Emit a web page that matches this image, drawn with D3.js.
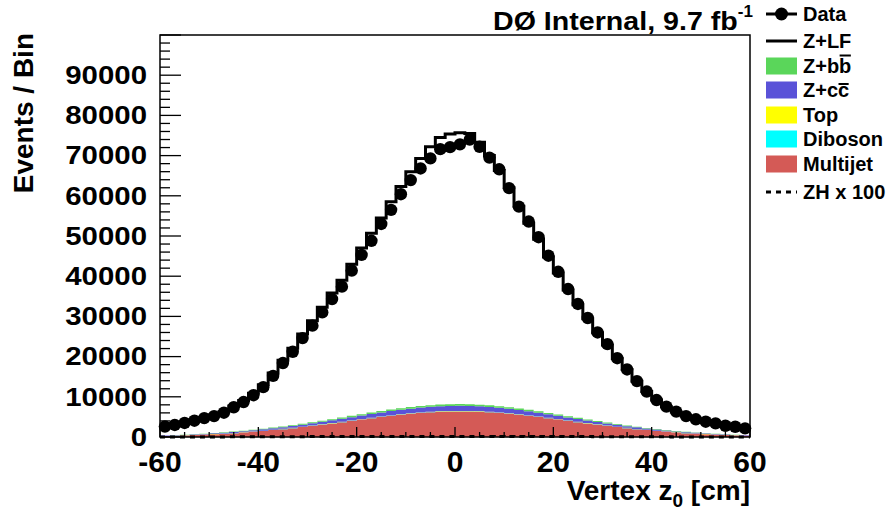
<!DOCTYPE html>
<html>
<head>
<meta charset="UTF-8">
<title>Vertex z0</title>
<script src="https://d3js.org/d3.v7.min.js"></script>
<style>
  body { margin: 0; background: #fff; }
  text { font-family: "Liberation Sans", Arial, sans-serif; font-weight: bold; fill: #000; }
</style>
</head>
<body>
<script>
// 2 cm bins from -60 to 60 (bin centres)
var binCenters = d3.range(-59, 60, 2);

var dataCounts = [2600, 3000, 3500, 4050, 4700, 5200, 6050, 7400, 8700, 10400,
  12400, 15200, 18400, 21200, 24600, 27700, 31000, 34300, 37400, 41400,
  45300, 48800, 53000, 56500, 60400, 63900, 66800, 69300, 71600, 72100,
  72800, 74000, 72200, 69500, 66600, 61900, 57300, 53600, 49700, 45100,
  41100, 36800, 33100, 29600, 26000, 23100, 19600, 16800, 13900, 11300,
  9200, 7550, 6300, 5200, 4400, 3800, 3400, 2800, 2550, 2150];

var multijet = [260, 320, 390, 475, 570, 690, 820, 960, 1120, 1300,
  1500, 1720, 1950, 2200, 2470, 2760, 3060, 3370, 3690, 4010,
  4330, 4650, 4960, 5250, 5520, 5760, 5970, 6130, 6250, 6320,
  6350, 6320, 6250, 6130, 5970, 5760, 5520, 5250, 4960, 4650,
  4330, 4010, 3690, 3370, 3060, 2760, 2470, 2200, 1950, 1720,
  1500, 1300, 1120, 960, 820, 690, 570, 475, 390, 320];

var diboson = [8, 10, 12, 14, 16, 18, 20, 22, 25, 28,
  30, 33, 35, 38, 40, 43, 45, 47, 49, 51,
  53, 54, 56, 57, 58, 59, 60, 60, 60, 60,
  60, 60, 60, 60, 59, 58, 57, 56, 54, 53,
  51, 49, 47, 45, 43, 40, 38, 35, 33, 30,
  28, 25, 22, 20, 18, 16, 14, 12, 10, 8];

var top_ = [10, 12, 14, 16, 18, 20, 23, 26, 29, 32,
  35, 38, 41, 44, 47, 50, 53, 56, 58, 60,
  62, 64, 66, 67, 68, 69, 70, 70, 70, 70,
  70, 70, 70, 70, 69, 68, 67, 66, 64, 62,
  60, 58, 56, 53, 50, 47, 44, 41, 38, 35,
  32, 29, 26, 23, 20, 18, 16, 14, 12, 10];

var zcc = [80, 95, 110, 130, 150, 175, 200, 230, 265, 300,
  340, 380, 425, 470, 520, 570, 630, 690, 750, 820,
  880, 950, 1010, 1070, 1120, 1170, 1210, 1240, 1260, 1270,
  1270, 1260, 1240, 1210, 1170, 1120, 1070, 1010, 950, 880,
  820, 750, 690, 630, 570, 520, 470, 425, 380, 340,
  300, 265, 230, 200, 175, 150, 130, 110, 95, 80];

var zbb = [40, 45, 50, 60, 70, 80, 90, 100, 115, 130,
  145, 165, 180, 200, 220, 240, 260, 280, 300, 320,
  340, 360, 375, 390, 400, 410, 420, 425, 430, 430,
  430, 430, 425, 420, 410, 400, 390, 375, 360, 340,
  320, 300, 280, 260, 240, 220, 200, 180, 165, 145,
  130, 115, 100, 90, 80, 70, 60, 50, 45, 40];

var zlf = [2300, 2620, 3020, 3510, 4030, 4470, 5150, 6360, 7550, 9110,
  10950, 13560, 16470, 19150, 22300, 25240, 28250, 31360, 34150, 37740,
  41340, 44620, 48030, 51670, 55130, 58530, 61570, 64280, 66430, 67250,
  67520, 67360, 65260, 62110, 58620, 54590, 50300, 46440, 42810, 38820,
  35220, 31430, 28140, 25040, 21940, 19310, 16280, 13920, 11330, 9030,
  7210, 5770, 4700, 3910, 3240, 2810, 2560, 2140, 1950, 1690];

var zh100 = [10, 12, 15, 18, 22, 26, 31, 36, 42, 48,
  55, 62, 70, 78, 86, 94, 102, 110, 117, 124,
  130, 136, 141, 145, 148, 150, 151, 152, 152, 152,
  152, 152, 151, 150, 148, 145, 141, 136, 130, 124,
  117, 110, 102, 94, 86, 78, 70, 62, 55, 48,
  42, 36, 31, 26, 22, 18, 15, 12, 10, 8];

var stackKeys = ["multijet", "diboson", "top", "zcc", "zbb", "zlf"];
var stackColors = {multijet: "#d45a56", diboson: "#00ffff", top: "#ffff00",
  zcc: "#5a52d8", zbb: "#5ad65a", zlf: "#ffffff"};

var xTickLabels = [-60, -40, -20, 0, 20, 40, 60];
var yTickLabels = [0, 10000, 20000, 30000, 40000, 50000, 60000, 70000, 80000, 90000];

var width = 891, height = 510;
var svg = d3.select("body").append("svg")
  .attr("width", width)
  .attr("height", height);

var x = d3.scaleLinear().domain([-60, 60]).range([160, 750]);
var y = d3.scaleLinear().domain([0, 100000]).range([437, 35]);

// stretch a text element horizontally (the original fonts are wide)
function widen(sel, f) {
  sel.each(function() {
    var w = this.getComputedTextLength();
    d3.select(this).attr("textLength", w * f).attr("lengthAdjust", "spacingAndGlyphs");
  });
}

// table for the stack
var table = binCenters.map(function(c, i) {
  return {c: c, multijet: multijet[i], diboson: diboson[i], top: top_[i],
    zcc: zcc[i], zbb: zbb[i], zlf: zlf[i]};
});
var series = d3.stack().keys(stackKeys)(table);

// step helper: points at bin edges, last value repeated at right edge
function stepPoints(vals) {
  var pts = vals.map(function(v, i) { return {x: binCenters[i] - 1, v: v}; });
  pts.push({x: binCenters[binCenters.length - 1] + 1, v: vals[vals.length - 1]});
  return pts;
}

var area = d3.area()
  .curve(d3.curveStepAfter)
  .x(function(d) { return x(d.x); })
  .y0(function(d) { return y(d.lo); })
  .y1(function(d) { return y(d.hi); });

series.forEach(function(s) {
  if (s.key === "zlf") return;
  var pts = s.map(function(d, i) { return {x: binCenters[i] - 1, lo: d[0], hi: d[1]}; });
  var last = s[s.length - 1];
  pts.push({x: 60, lo: last[0], hi: last[1]});
  svg.append("path")
    .attr("d", area(pts))
    .attr("fill", stackColors[s.key])
    .attr("stroke", "none");
});

// total MC outline (top of Z+LF)
var stackTop = series[series.length - 1].map(function(d) { return d[1]; });
var stepLine = d3.line()
  .curve(d3.curveStepAfter)
  .x(function(d) { return x(d.x); })
  .y(function(d) { return y(d.v); });

svg.append("path")
  .attr("d", stepLine(stepPoints(stackTop)))
  .attr("fill", "none")
  .attr("stroke", "#000")
  .attr("stroke-width", 3);

// frame
svg.append("rect")
  .attr("x", 160).attr("y", 35)
  .attr("width", 590).attr("height", 402)
  .attr("fill", "none")
  .attr("stroke", "#000")
  .attr("stroke-width", 1.5);

// y ticks (inside, left)
var yMinor = d3.range(0, 100001, 2000);
svg.selectAll(".ytick")
  .data(yMinor)
  .enter().append("line")
  .attr("x1", 160)
  .attr("x2", function(d) { return d % 10000 === 0 ? 181 : 170; })
  .attr("y1", function(d) { return y(d); })
  .attr("y2", function(d) { return y(d); })
  .attr("stroke", "#000")
  .attr("stroke-width", 1.3);

var ylabs = svg.selectAll(".ylab")
  .data(yTickLabels)
  .enter().append("text")
  .attr("x", 147)
  .attr("y", function(d) { return y(d); })
  .attr("dy", "0.34em")
  .attr("text-anchor", "end")
  .attr("font-size", 26)
  .text(function(d) { return d; });
widen(ylabs, 1.13);

// x ticks (inside, bottom)
var xMinor = d3.range(-60, 61, 5);
svg.selectAll(".xtick")
  .data(xMinor)
  .enter().append("line")
  .attr("x1", function(d) { return x(d); })
  .attr("x2", function(d) { return x(d); })
  .attr("y1", 437)
  .attr("y2", function(d) { return d % 20 === 0 ? 427 : 432; })
  .attr("stroke", "#000")
  .attr("stroke-width", 1.3);

svg.selectAll(".xlab")
  .data(xTickLabels)
  .enter().append("text")
  .attr("x", function(d) { return x(d); })
  .attr("y", 472)
  .attr("text-anchor", "middle")
  .attr("font-size", 30)
  .text(function(d) { return d; });

// ZH x 100 dashed
svg.append("path")
  .attr("d", stepLine(stepPoints(zh100)))
  .attr("fill", "none")
  .attr("stroke", "#000")
  .attr("stroke-width", 3)
  .attr("stroke-dasharray", "5,5");

// data points
svg.selectAll(".pt")
  .data(dataCounts)
  .enter().append("circle")
  .attr("cx", function(d, i) { return x(binCenters[i]); })
  .attr("cy", function(d) { return y(d); })
  .attr("r", 6.2)
  .attr("fill", "#000");

// axis titles
svg.append("text")
  .attr("transform", "translate(33,33) rotate(-90)")
  .attr("text-anchor", "end")
  .attr("font-size", 28)
  .text("Events / Bin");

var xt = svg.append("text")
  .attr("x", 750)
  .attr("y", 500)
  .attr("text-anchor", "end")
  .attr("font-size", 28);
xt.append("tspan").text("Vertex z");
xt.append("tspan").attr("dy", 7).attr("font-size", 19).text("0");
xt.append("tspan").attr("dy", -7).text(" [cm]");

// title
var tt = svg.append("text")
  .attr("x", 493)
  .attr("y", 30)
  .attr("font-size", 26);
var ttMain = tt.append("tspan").text("DØ Internal, 9.7 fb");
widen(ttMain, 1.1);
tt.append("tspan").attr("dy", -13).attr("font-size", 17).text("-1");

// legend
var legendY = [14, 41, 66, 90, 115, 139, 164, 192];
var lg = svg.append("g");
var lx0 = 766, lx1 = 797, tx = 803;

lg.append("line").attr("x1", lx0).attr("x2", lx1).attr("y1", legendY[0]).attr("y2", legendY[0])
  .attr("stroke", "#000").attr("stroke-width", 3);
lg.append("circle").attr("cx", (lx0 + lx1) / 2).attr("cy", legendY[0]).attr("r", 6.5);
lg.append("line").attr("x1", lx0).attr("x2", lx1).attr("y1", legendY[1]).attr("y2", legendY[1])
  .attr("stroke", "#000").attr("stroke-width", 3);

var boxKeys = ["zbb", "zcc", "top", "diboson", "multijet"];
boxKeys.forEach(function(k, i) {
  lg.append("rect")
    .attr("x", lx0).attr("y", legendY[i + 2] - 8.5)
    .attr("width", lx1 - lx0).attr("height", 17)
    .attr("fill", stackColors[k]);
});
lg.append("line").attr("x1", lx0).attr("x2", lx1).attr("y1", legendY[7]).attr("y2", legendY[7])
  .attr("stroke", "#000").attr("stroke-width", 3).attr("stroke-dasharray", "5,5");

// label text; barChar = index of the character that carries a bar, barUp = bar offset above row centre
var legendLabels = ["Data", "Z+LF", "Z+bb", "Z+cc", "Top", "Diboson", "Multijet", "ZH x 100"];
var barChar = {2: 3, 3: 3};
var barUp = {2: 10.5, 3: 6};
legendLabels.forEach(function(label, i) {
  var t = lg.append("text")
    .attr("x", tx).attr("y", legendY[i] + 7)
    .attr("font-size", 20)
    .text(label);
  if (barChar[i] !== undefined) {
    var node = t.node();
    var x0 = node.getStartPositionOfChar(barChar[i]).x;
    var x1 = node.getEndPositionOfChar(barChar[i]).x;
    lg.append("line")
      .attr("x1", x0 + 0.5).attr("x2", x1 - 0.5)
      .attr("y1", legendY[i] - barUp[i]).attr("y2", legendY[i] - barUp[i])
      .attr("stroke", "#000").attr("stroke-width", 2);
  }
});
</script>
</body>
</html>
